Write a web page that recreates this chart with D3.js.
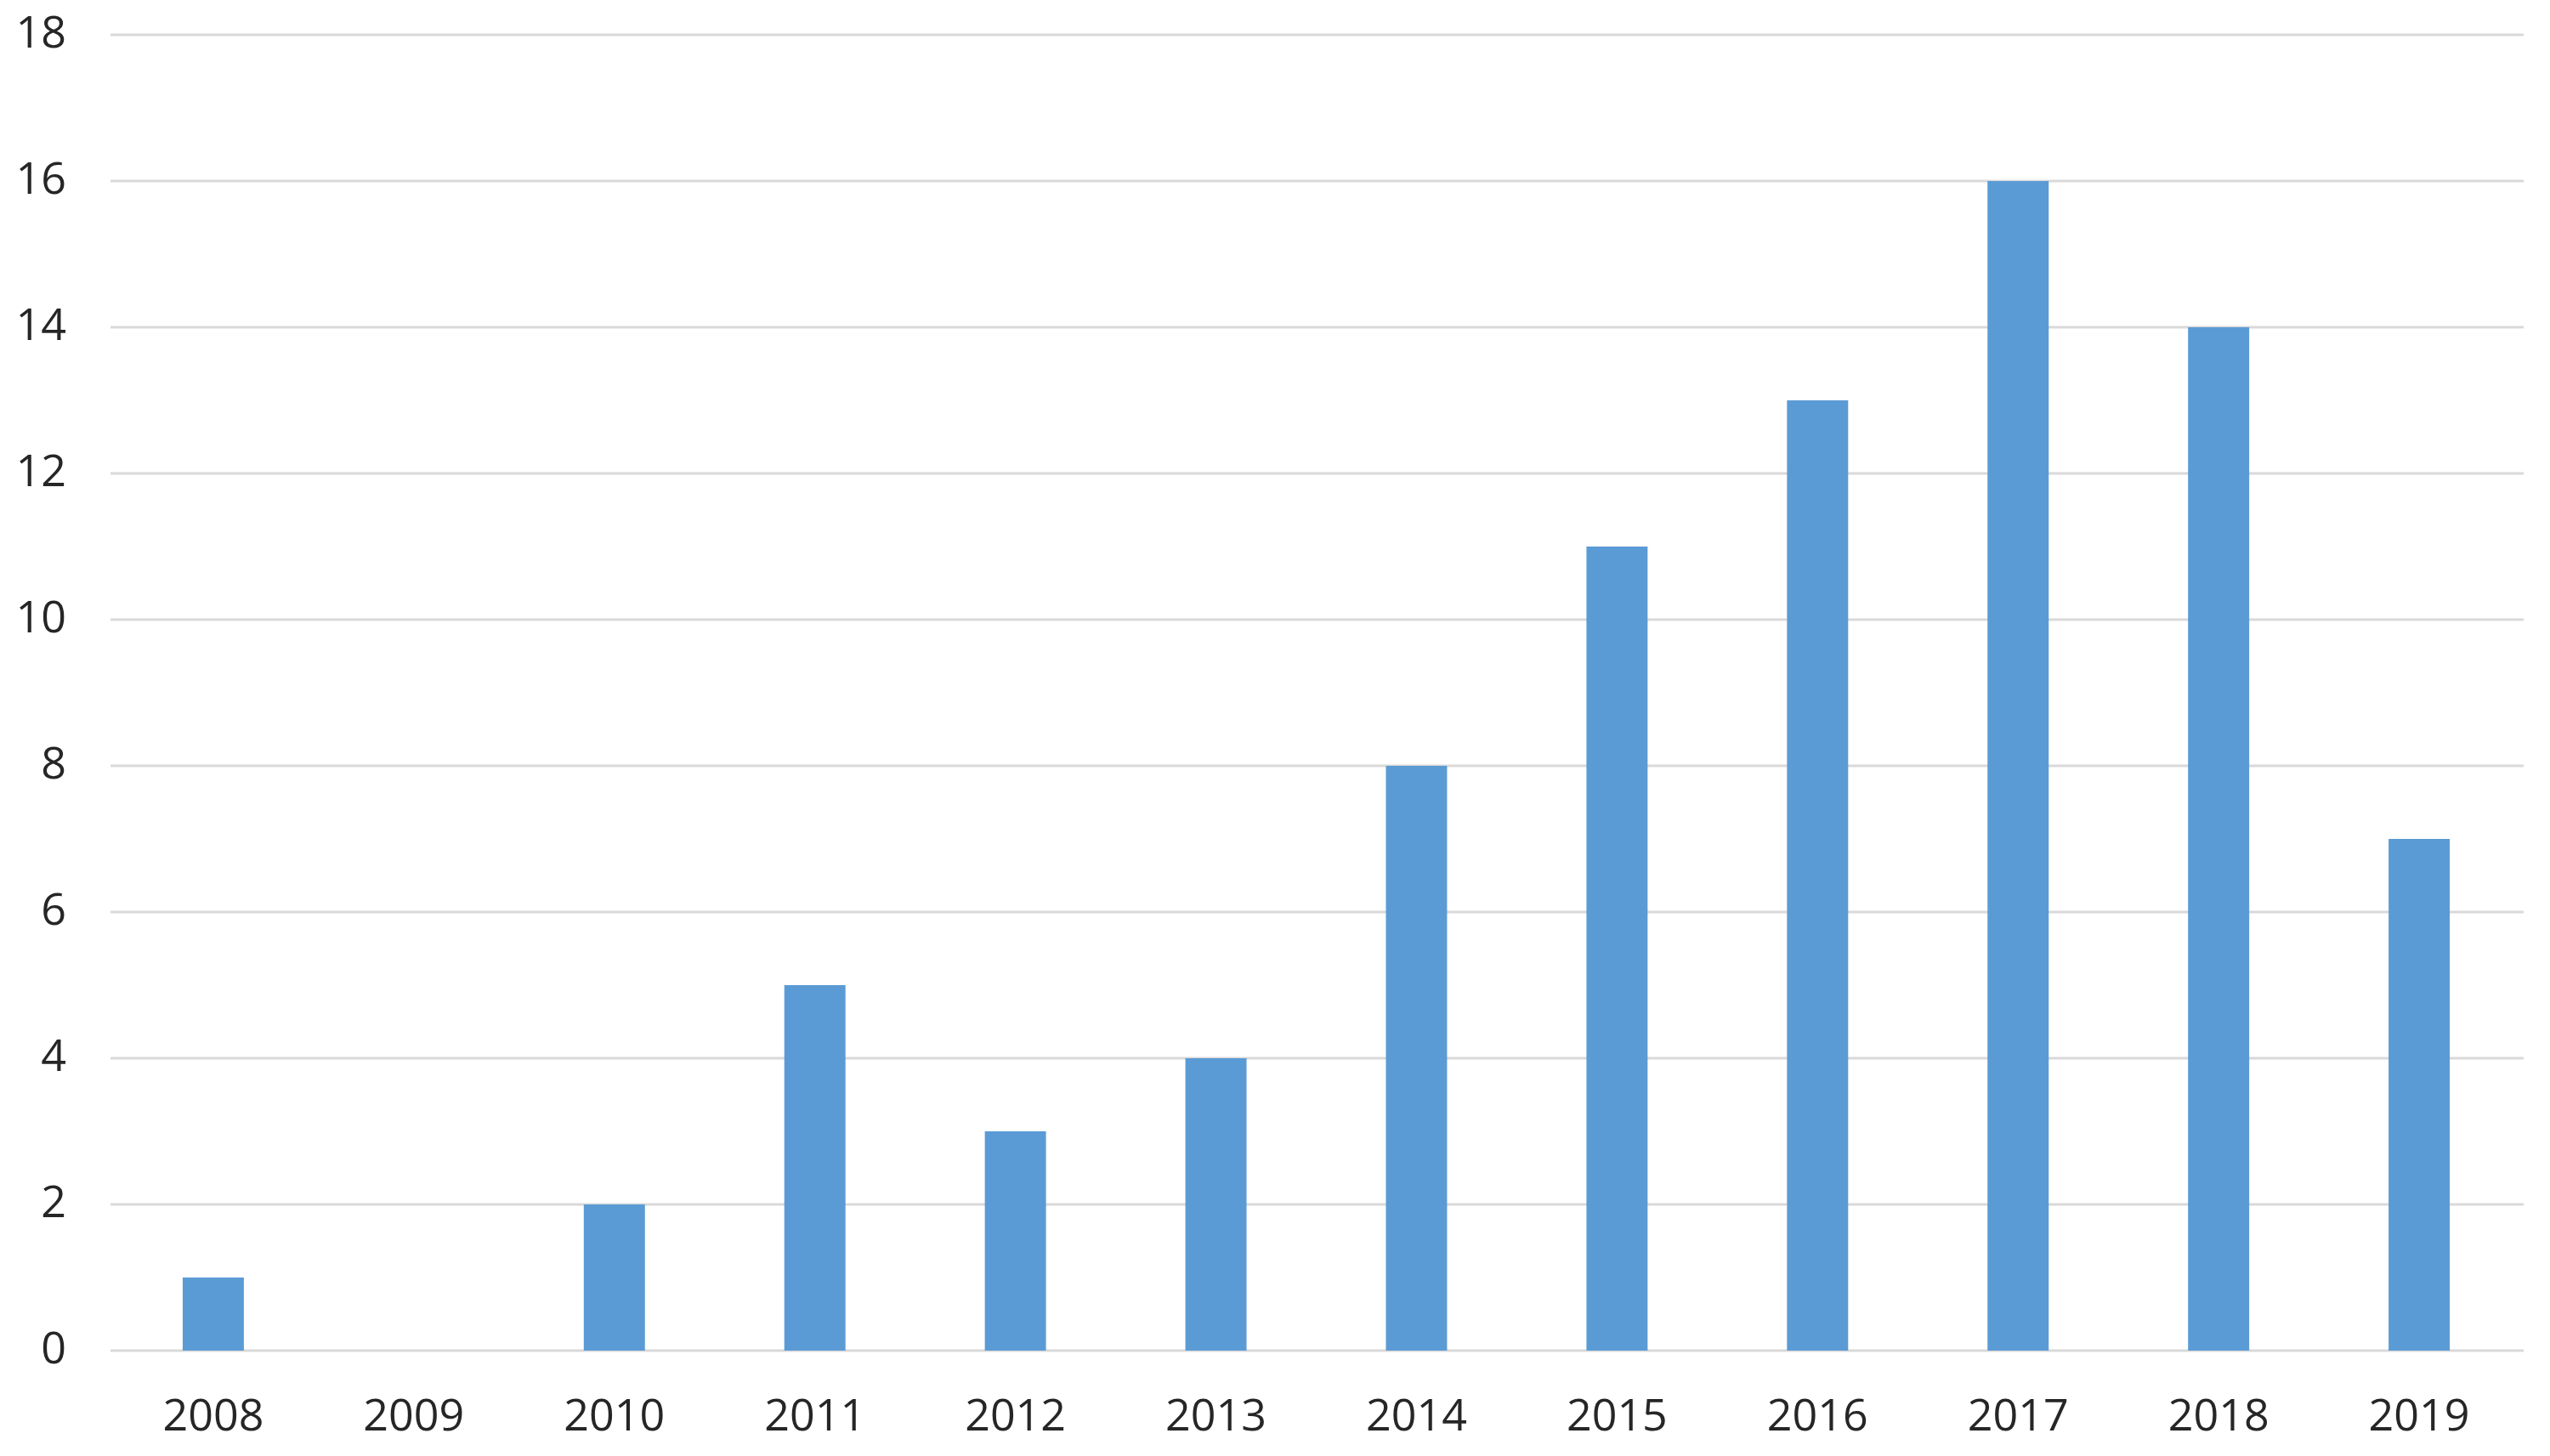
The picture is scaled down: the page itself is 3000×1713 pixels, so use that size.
<!DOCTYPE html>
<html><head><meta charset="utf-8">
<script src="https://cdn.jsdelivr.net/npm/d3@7"></script>
<style>html,body{margin:0;padding:0;background:#fff;}</style>
</head><body>
<svg id="chart" width="3000" height="1713"></svg>
<script>
const categories = ["2008","2009","2010","2011","2012","2013","2014","2015","2016","2017","2018","2019"];
const values = [1, 0, 2, 5, 3, 4, 8, 11, 13, 16, 14, 7];
const yTicks = [0, 2, 4, 6, 8, 10, 12, 14, 16, 18];

const svg = d3.select("#chart");
const plotLeft = 130, plotRight = 2967, gridRight = 2969, plotTop = 41, plotBottom = 1589;

const x = d3.scaleBand().domain(categories).range([plotLeft, plotRight]).paddingInner(0.695).paddingOuter(0.36);
const y = d3.scaleLinear().domain([0, 18]).range([plotBottom, plotTop]);

svg.append("rect").attr("width", 3000).attr("height", 1713).attr("fill", "#fff");

// gridlines
svg.append("g").selectAll("line").data(yTicks).join("line")
  .attr("x1", plotLeft).attr("x2", gridRight)
  .attr("y1", d => y(d)).attr("y2", d => y(d))
  .attr("stroke", "#d9d9d9").attr("stroke-width", 3);

// y labels
svg.append("g").selectAll("text").data(yTicks).join("text")
  .attr("x", 78).attr("y", d => y(d) - 6)
  .attr("text-anchor", "end").attr("dominant-baseline", "central")
  .attr("font-family", "'Open Sans', sans-serif").attr("font-size", 52)
  .attr("fill", "#262626")
  .text(d => d);

// bars
svg.append("g").selectAll("rect").data(values).join("rect")
  .attr("x", (d, i) => x(categories[i]))
  .attr("width", x.bandwidth())
  .attr("y", d => y(d))
  .attr("height", d => y(0) - y(d))
  .attr("fill", "#5b9bd5");

// x labels
const xAxis = svg.append("g").attr("transform", `translate(0,${plotBottom})`)
  .call(d3.axisBottom(x).tickSize(0).tickPadding(0));
xAxis.select(".domain").remove();
xAxis.selectAll("text")
  .attr("y", 73).attr("dy", null).attr("dominant-baseline", "central")
  .attr("font-family", "'Open Sans', sans-serif").attr("font-size", 52)
  .attr("fill", "#262626");
</script>
</body></html>
